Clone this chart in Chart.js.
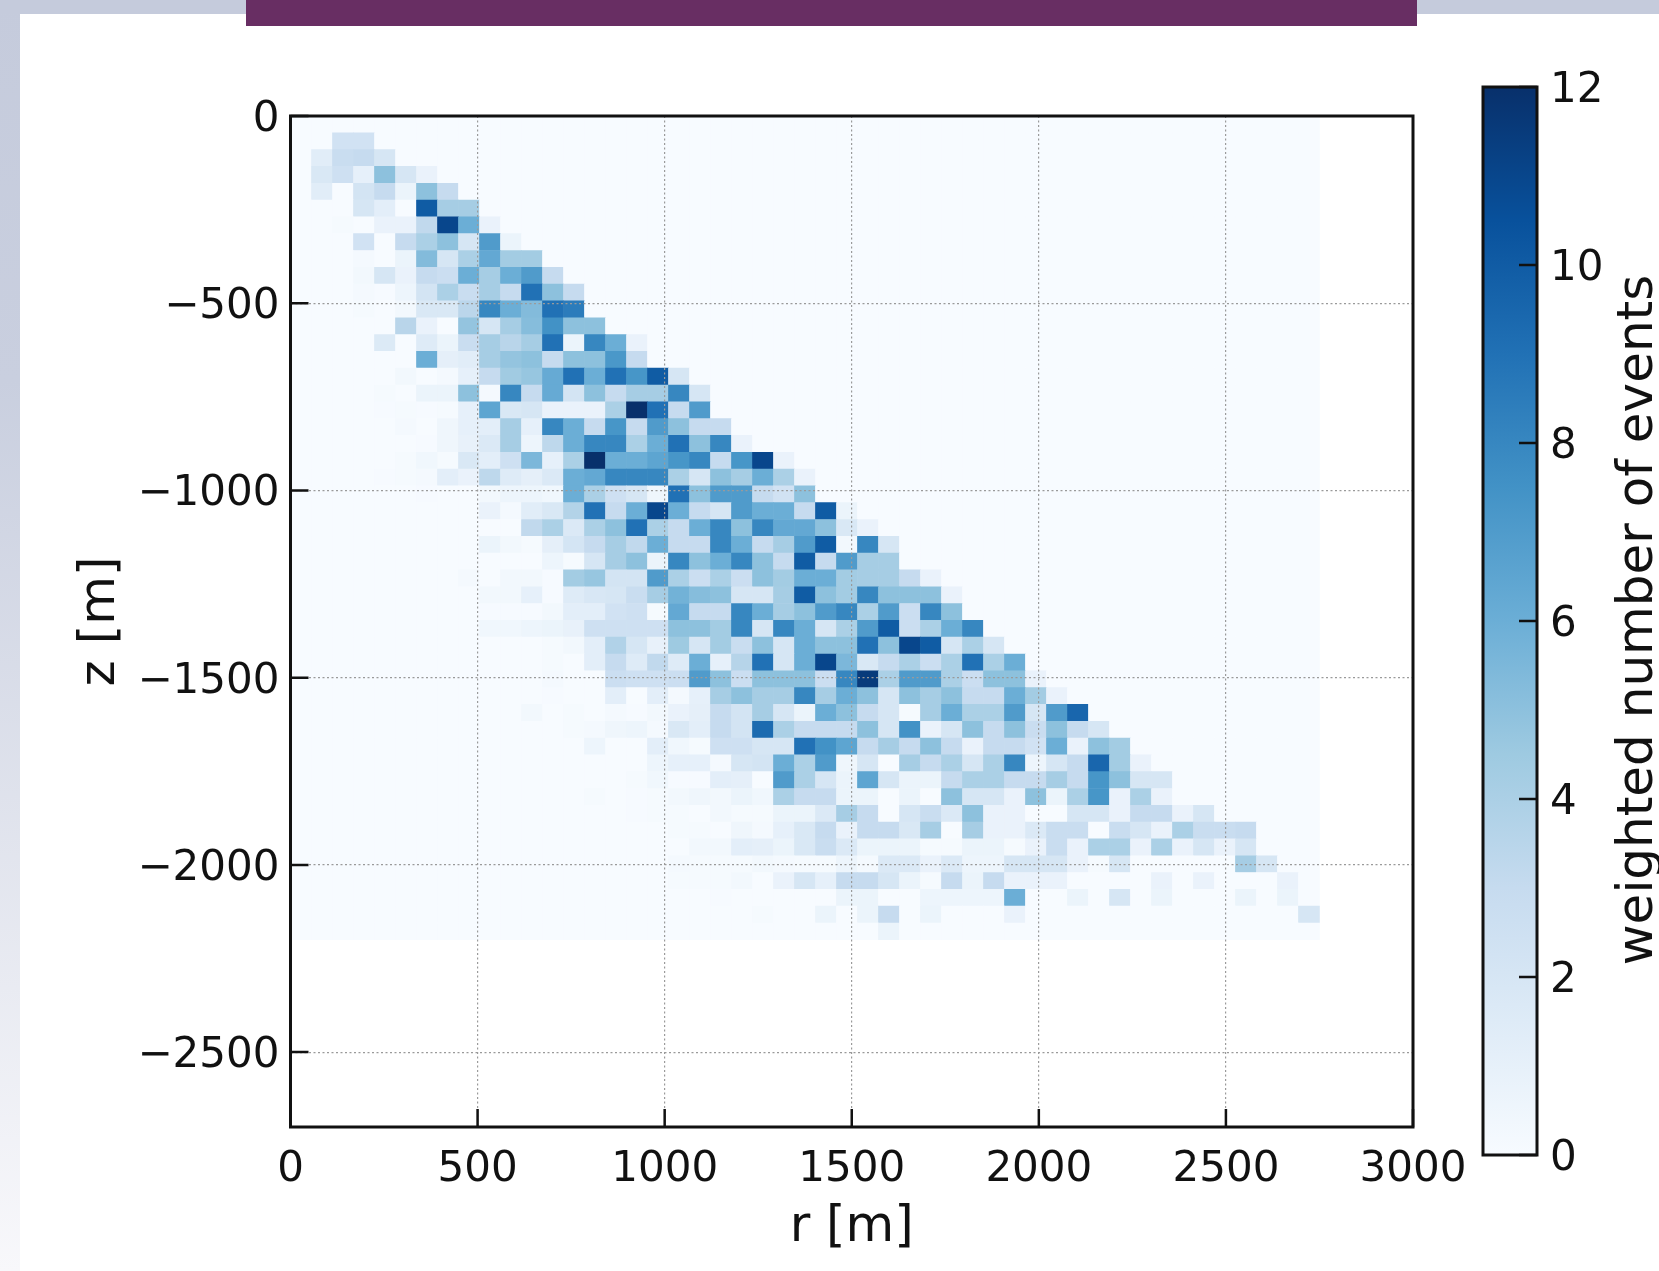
<!DOCTYPE html>
<html>
<head>
<meta charset="utf-8">
<title>r-z event map</title>
<script src="https://cdn.jsdelivr.net/npm/chart.js@4"></script>
<style>
  body { margin: 0; background: #fff; }
  #page { position: relative; width: 1659px; height: 1271px; overflow: hidden; background: #fff; }
  #stripLeft { position: absolute; left: 0; top: 0; width: 20px; height: 1271px; background: linear-gradient(#c5cbdc, #c9cfdf 30%, #f8f8fb); }
  #stripTop { position: absolute; left: 0; top: 0; width: 1659px; height: 14px; background: #c5cbdc; }
  #banner { position: absolute; left: 246px; top: 0; width: 1171px; height: 26px; background: #682e63; }
  canvas { position: absolute; filter: blur(0.55px); }
  #heat { left: 0; top: 0; }
  #bar { left: 1440px; top: 30px; }
</style>
</head>
<body>
<div id="page">
  <div id="stripLeft"></div>
  <div id="stripTop"></div>
  <div id="banner"></div>
  <canvas id="heat" width="1659" height="1271"></canvas>
  <canvas id="bar" width="219" height="1170"></canvas>
</div>
<script>
  // axes
  const rTicks = [0, 500, 1000, 1500, 2000, 2500, 3000];
  const zTicks = [0, -500, -1000, -1500, -2000, -2500];
  const barTicks = [0, 2, 4, 6, 8, 10, 12];
  const rMax = 3000;
  const zMin = -2700;
  const histR = 2750;
  const histZ = 2200;
  const binCount = 49;

  // weighted events per r bin, one list per z bin (top row first)
  const z00 = [];
  const z01 = [0,0,2.3,2.3];
  const z02 = [0,1.3,2.8,3,2];
  const z03 = [0,1.8,2.5,1,5,2,.8];
  const z04 = [0,1.3,0,2.2,3,.7,5,3];
  const z05 = [0,0,0,2,1.2,0,10,4.2,4.2];
  const z06 = [0,0,.1,0,.8,.8,3.2,11,6,.8];
  const z07 = [0,0,0,2.3,0,3,4,5,2,7,.7];
  const z08 = [0,0,0,.2,0,.7,5.3,2,4,6.3,4.3,4.3];
  const z09 = [0,0,0,.3,2,.8,3,2.7,6,4.2,6,7,3];
  const z10 = [0,0,0,.2,.05,.6,2.2,4,2.8,4.2,3,9,5,3];
  const z11 = [0,0,0,.1,0,.3,1.8,1.8,3.4,8,6,5.3,9,8.5];
  const z12 = [0,0,0,0,0,3.5,.8,0,4.8,2,4.2,5.2,7.5,5,5];
  const z13 = [0,0,0,0,1.6,0,1.5,.7,2.8,4.2,3.5,4.2,9,.7,8,6,.8];
  const z14 = [0,0,0,0,0,0,6,1.1,1.3,4.2,4.8,5,3,5,5,7.2,3];
  const z15 = [0,0,0,0,0,.3,0,.2,1,3,4.4,4.7,6.2,9,6,9,7.3,10,2];
  const z16 = [0,0,0,0,.1,0,.7,.7,5,.2,8,3,6.2,2.2,5,3,4.2,4.2,8,2];
  const z17 = [0,0,0,0,.05,.1,.05,.1,1,6.5,1.8,2,.8,.8,.8,4,12,9,3,7];
  const z18 = [0,0,0,0,0,.2,0,.5,1,1.2,4.2,1,8,6,3,7.3,3,7,5,3,3];
  const z19 = [0,0,0,0,0,0,.05,.5,.9,1.7,4.2,.6,3.3,6,8,8,4,6,9,5,8,.8];
  const z20 = [0,0,0,0,0,.1,.4,.1,1.8,1.2,2.5,5.5,1,4,12,6,6,6.5,7.3,8,3,7.3,11,.8];
  const z21 = [0,0,0,0,.05,.1,.2,1.2,.8,3.3,1.5,1.1,1.7,6,6.3,8,8,8,4,2,5,4.2,6,4,.8];
  const z22 = [0,0,0,0,0,0,.05,0,0,.3,.6,.6,.4,6,4,2.5,2,.5,9,5,7,7,3,2.3,5];
  const z23 = [0,0,0,0,0,0,0,0,0,.8,.2,1.3,1.8,3.7,9,3,6,11,6,3,2,7,6,6,3,10,.7];
  const z24 = [0,0,0,0,0,0,0,0,0,0,0,3.2,4,1.7,4,5,9,4,3,6,8,5,8,6.3,6.3,5,1.8,.8];
  const z25 = [0,0,0,0,0,0,0,0,0,.7,.3,.1,1.1,2.1,3,4.2,3.2,6,3,3,8,6,3,4.2,7,10,.3,8,2];
  const z26 = [0,0,0,0,0,0,0,0,0,0,0,0,.6,.1,2,4.2,5,.7,8,5,6,8,5,3,10,3,7,4.2,4.2];
  const z27 = [0,0,0,0,0,0,0,0,.2,0,.3,.3,.05,4.3,4.7,2.2,2.2,7,4,2.7,4,2.7,5,4.3,6,6,4.3,4.2,4.2,3,.8];
  const z28 = [0,0,0,0,0,0,0,0,0,.3,.3,1,.05,1.5,1.9,2,2.8,4.2,5.8,5.2,5,2,2,4.2,10,5,4.3,8,5,5,5,.8];
  const z29 = [0,0,0,0,0,0,0,0,0,.05,.05,.05,.3,1.2,1.2,2.3,2.5,.1,6.3,3,3,8,6,4.2,5,7,8,4,7,2.7,8,5];
  const z30 = [0,0,0,0,0,0,0,0,0,.4,.4,.6,.7,.9,2.5,2.5,2.5,2.5,5,5,4.3,8,2,8,6,2,4,7,10,2.7,4,6,8];
  const z31 = [0,0,0,0,0,0,0,0,0,0,0,0,.1,.3,1.2,3.8,2,.9,4.5,2,4.3,2.8,5,2,6,5,5,9,5,11,10,2,4,2];
  const z32 = [0,0,0,0,0,0,0,0,0,0,0,0,.1,0,1.2,3,1.5,3.2,1.5,6,1,3.6,9,2,6,11,5.5,1.8,3,4,2.7,4,9,4,6];
  const z33 = [0,0,0,0,0,0,0,0,0,0,0,0,.2,0,0,2.7,2.5,2.5,2.7,7,5,2.7,5,5,5,2.7,8,11.5,4,7,7,4,2.7,5,5,.8];
  const z34 = [0,0,0,0,0,0,0,0,0,0,0,0,.05,0,0,1.2,0,1.2,.2,1,4.2,5,4.2,4.2,8,4.2,6,5,2,5,4.2,5,3,3,6,4.3,.8];
  const z35 = [0,0,0,0,0,0,0,0,0,0,0,.3,0,.1,0,.2,.05,.3,.8,1.1,3,2.2,4.2,2,.7,6,5,3,2,.1,4.2,6,4,4,7,2,7,9.5];
  const z36 = [0,0,0,0,0,0,0,0,0,0,0,0,0,.1,.2,.5,.6,.2,1.8,1.2,3,2.2,9.3,4,3,3,3,5,2,7.5,.8,2,5,3,5,2.8,5,3,2];
  const z37 = [0,0,0,0,0,0,0,0,0,0,0,0,0,0,.6,0,0,1.2,.4,.1,2.5,2.5,2,2,9,7.5,6.5,3,4.2,3,5,3,.8,3,3,2.3,6,.8,5,4.3];
  const z38 = [0,0,0,0,0,0,0,0,0,0,0,0,0,0,0,0,0,.6,1,1,.2,2,2.2,6,4,7,.5,2,0,4.2,3,4,2,4,8,.6,2,3,9.5,4.3,.8];
  const z39 = [0,0,0,0,0,0,0,0,0,0,0,0,0,0,0,0,.1,.4,.05,.05,1.2,1.1,0,7,4,2,.7,6.5,2,.7,.7,3,4,4,3,3,4.2,3,7.3,5,2,2];
  const z40 = [0,0,0,0,0,0,0,0,0,0,0,0,0,0,.1,0,.05,.1,.3,.5,.3,.7,.4,4,3,3,.7,.7,0,.7,0,5,2,2,.8,5,.7,4,7.3,.8,4,.8];
  const z41 = [0,0,0,0,0,0,0,0,0,0,0,0,0,0,0,0,.05,.1,.1,0,.3,.1,.1,.7,.7,1.7,4.2,3,0,2,2.8,1.7,5,.8,.8,0,0,2,2,.8,3,3,.8,2];
  const z42 = [0,0,0,0,0,0,0,0,0,0,0,0,0,0,0,0,0,0,.1,.1,0,.5,.2,1,1.8,3,.8,3,3,1.8,4.2,0,4.2,.8,.8,1.7,2.8,2.8,0,2.8,2,.8,4,2.8,2.8,3];
  const z43 = [0,0,0,0,0,0,0,0,0,0,0,0,0,0,0,0,0,0,0,.3,.3,1.2,1.1,.7,1.8,2.8,1.7,.7,.7,.7,.1,.1,.7,.7,.1,.8,2.8,.8,4,4,.8,4,.8,2,.8,2];
  const z44 = [0,0,0,0,0,0,0,0,0,0,0,0,0,0,0,0,0,0,.2,.1,.1,.1,.3,.2,.1,.1,.6,.2,1.7,1.7,.8,1.7,.6,.6,2,2,2,.8,.1,2,0,0,0,0,0,4.2,2];
  const z45 = [0,0,0,0,0,0,0,0,0,0,0,0,0,0,0,0,0,0,.1,.1,.1,.3,0,.8,2,1,3,3,2,.7,.1,3,.7,3,.8,.8,.8,0,0,0,0,.8,0,.8,0,0,0,.8];
  const z46 = [0,0,0,0,0,0,0,0,0,0,0,0,0,0,0,0,0,0,0,0,.05,0,0,0,0,0,.7,.7,0,0,.6,.6,.6,.6,6,0,0,.7,0,2,0,.7,0,0,0,.7,0,.7];
  const z47 = [0,0,0,0,0,0,0,0,0,0,0,0,0,0,0,0,0,0,0,0,0,0,.1,0,0,.7,0,.7,3,0,.7,0,0,0,.8,0,0,0,0,0,0,0,0,0,0,0,0,0,2];
  const z48 = [0,0,0,0,0,0,0,0,0,0,0,0,0,0,0,0,0,0,0,0,0,0,0,0,0,0,0,0,.7];
  const rows = [z00,z01,z02,z03,z04,z05,z06,z07,z08,z09,z10,z11,z12,z13,z14,z15,z16,z17,z18,z19,z20,z21,z22,z23,z24,
    z25,z26,z27,z28,z29,z30,z31,z32,z33,z34,z35,z36,z37,z38,z39,z40,z41,z42,z43,z44,z45,z46,z47,z48];

  // matplotlib Blues
  const blues = [[247,251,255],[222,235,247],[198,219,239],[158,202,225],[107,174,214],[66,146,198],[33,113,181],[8,81,156],[8,48,107]];
  const barMax = 12;

  function blueFor(v) {
    let t = v / barMax * (blues.length - 1);
    let i = Math.min(Math.floor(t), blues.length - 2);
    let f = t - i;
    let c = blues[i].map((a, k) => Math.round(a + (blues[i + 1][k] - a) * f));
    return 'rgb(' + c.join(',') + ')';
  }

  let cells = [];
  let binR = histR / binCount;
  let binZ = histZ / binCount;
  rows.forEach((row, j) => {
    for (let i = 0; i < binCount; i++) {
      cells.push({ x: (i + 0.5) * binR, y: [-(j + 1) * binZ, -j * binZ], v: row[i] || 0 });
    }
  });

  const ink = '#111';
  const fontFamily = '"DejaVu Sans"';
  const tickFont = { family: fontFamily, size: 42 };
  const titleFont = { family: fontFamily, size: 50 };
  const minus = v => String(v).replace('-', '\u2212');

  // inside ticks and the box around the axes
  const axesBox = {
    id: 'axesBox',
    afterDraw(chart) {
      let c = chart.ctx, a = chart.chartArea;
      c.save();
      c.strokeStyle = ink;
      c.lineWidth = 2.5;
      c.beginPath();
      if (chart.scales.x.options.display) {
        rTicks.forEach(v => {
          let p = chart.scales.x.getPixelForValue(v);
          c.moveTo(p, a.bottom);
          c.lineTo(p, a.bottom - 18);
        });
        zTicks.forEach(v => {
          let p = chart.scales.y.getPixelForValue(v);
          c.moveTo(a.left, p);
          c.lineTo(a.left + 18, p);
        });
      } else {
        barTicks.forEach(v => {
          let p = chart.scales.y.getPixelForValue(v);
          c.moveTo(a.right, p);
          c.lineTo(a.right - 18, p);
        });
      }
      c.stroke();
      c.lineWidth = 3;
      c.strokeRect(a.left, a.top, a.right - a.left, a.bottom - a.top);
      c.restore();
    }
  };

  let ctx = document.getElementById('heat').getContext('2d');
  let chart = new Chart(ctx, {
    type: 'bar',
    data: {
      datasets: [{
        data: cells,
        backgroundColor: c => blueFor(c.raw.v),
        borderWidth: 0,
        barPercentage: 1,
        categoryPercentage: 1
      }]
    },
    plugins: [axesBox],
    options: {
      responsive: false,
      animation: false,
      layout: { autoPadding: false, padding: { top: 116, right: 246, left: 0, bottom: 0 } },
      plugins: { legend: { display: false }, tooltip: { enabled: false } },
      scales: {
        x: {
          type: 'linear',
          offset: false,
          min: 0,
          max: rMax,
          afterBuildTicks: s => { s.ticks = rTicks.map(v => ({ value: v })); },
          afterFit: s => { s.height = 144; },
          ticks: { maxRotation: 0, autoSkip: false, padding: 18, color: ink, font: tickFont, callback: v => String(v) },
          grid: { z: 1, color: '#9a9a9a', lineWidth: 1.2, drawTicks: false, offset: false },
          border: { display: false, dash: [2, 2.5] },
          title: { display: true, text: 'r [m]', color: ink, font: titleFont, padding: { top: 0, bottom: 13 } }
        },
        y: {
          type: 'linear',
          min: zMin,
          max: 0,
          afterBuildTicks: s => { s.ticks = zTicks.map(v => ({ value: v })); },
          afterFit: s => { s.width = 290.5; },
          ticks: { autoSkip: false, padding: 11, labelOffset: 4, color: ink, font: tickFont, callback: minus },
          grid: { z: 1, color: '#9a9a9a', lineWidth: 1.2, drawTicks: false },
          border: { display: false, dash: [2, 2.5] },
          title: { display: true, text: 'z [m]', color: ink, font: titleFont, padding: { top: 71, bottom: 0 } }
        }
      }
    }
  });

  // colour bar with its rotated caption
  const barCaption = {
    id: 'barCaption',
    afterDraw(bar) {
      let c = bar.ctx;
      c.save();
      c.translate(199, 590);
      c.rotate(-Math.PI / 2);
      c.fillStyle = ink;
      c.font = '50px ' + fontFamily;
      c.textAlign = 'center';
      c.textBaseline = 'middle';
      c.fillText('weighted number of events', 0, 0);
      c.restore();
    }
  };

  let ctxBar = document.getElementById('bar').getContext('2d');
  let chartBar = new Chart(ctxBar, {
    type: 'bar',
    data: {
      labels: [''],
      datasets: [{
        data: [[0, barMax]],
        barPercentage: 1,
        categoryPercentage: 1,
        borderWidth: 0,
        backgroundColor: c => {
          let a = c.chart.chartArea;
          if (!a) return blueFor(barMax / 2);
          let g = c.chart.ctx.createLinearGradient(0, a.bottom, 0, a.top);
          blues.forEach((b, i) => g.addColorStop(i / (blues.length - 1), 'rgb(' + b.join(',') + ')'));
          return g;
        }
      }]
    },
    plugins: [axesBox, barCaption],
    options: {
      responsive: false,
      animation: false,
      layout: { autoPadding: false, padding: { top: 57, left: 43, bottom: 45, right: 0 } },
      plugins: { legend: { display: false }, tooltip: { enabled: false } },
      scales: {
        x: { display: false },
        y: {
          position: 'right',
          min: 0,
          max: barMax,
          afterBuildTicks: s => { s.ticks = barTicks.map(v => ({ value: v })); },
          afterFit: s => { s.width = 122; },
          ticks: { padding: 13, labelOffset: 4, color: ink, font: tickFont },
          grid: { display: false, drawTicks: false },
          border: { display: false }
        }
      }
    }
  });
</script>
</body>
</html>
